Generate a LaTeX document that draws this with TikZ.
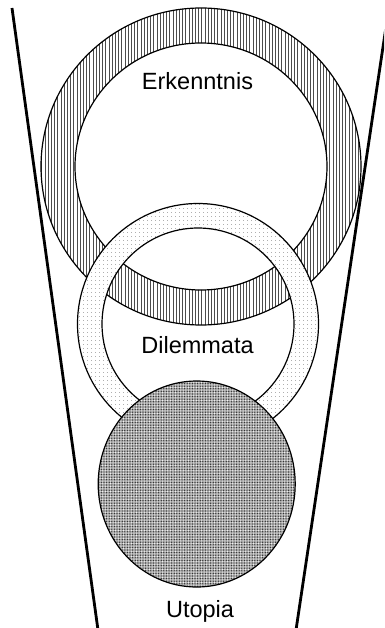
\documentclass[tikz,border=0pt]{standalone}
\usepackage{fontspec}
\setmainfont{Liberation Sans}
\usetikzlibrary{patterns,patterns.meta}
\begin{document}
\begin{tikzpicture}[x=1pt,y=-1pt,
  edge/.style={draw=black,line width=1.2pt},
  side/.style={draw=black,line width=2.8pt},
  lbl/.style={font=\fontsize{23.5}{26}\selectfont,anchor=base,inner sep=0pt}]
\useasboundingbox (0,0) rectangle (384,628);
\clip (0,0) rectangle (384,628);
% side lines
\coordinate (lt) at (12,8);
\coordinate (lb) at (98,630);
\coordinate (rt) at (390,0);
\coordinate (rb) at (296,630);
\draw[side] (lt) -- (lb);
\draw[side] (rt) -- (rb);
% Erkenntnis ring
\coordinate (E) at (201,166.5);
\fill[white,even odd rule] (E) ellipse[x radius=160,y radius=158.5] (E) ellipse[x radius=126,y radius=123.5];
\fill[pattern={Lines[angle=90,distance=3.2pt,line width=0.55pt]},pattern color=black!70,even odd rule]
  (E) ellipse[x radius=160,y radius=158.5] (E) ellipse[x radius=126,y radius=123.5];
\draw[edge] (E) ellipse[x radius=160,y radius=158.5];
\draw[edge] (E) ellipse[x radius=126,y radius=123.5];
% Dilemmata ring
\coordinate (D) at (198,324);
\fill[white,even odd rule] (D) circle[radius=120.5] (D) circle[radius=96];
\fill[pattern={Dots[distance=4pt,radius=0.45pt]},pattern color=black!55,even odd rule]
  (D) circle[radius=120.5] (D) circle[radius=96];
\draw[edge] (D) circle[radius=120.5];
\draw[edge] (D) circle[radius=96];
% Utopia disc
\coordinate (U) at (196.7,484);
\fill[gray!62] (U) ellipse[x radius=98.5,y radius=103];
\fill[pattern={Dots[distance=2.6pt,radius=0.7pt]},pattern color=black!80] (U) ellipse[x radius=98.5,y radius=103];
\fill[pattern={Dots[distance=2.6pt,radius=0.5pt,xshift=1.3pt,yshift=1.3pt]},pattern color=white] (U) ellipse[x radius=98.5,y radius=103];
\draw[edge] (U) ellipse[x radius=98.5,y radius=103];
% labels
\node[lbl] (te) at (197.5,90) {Erkenntnis};
\node[lbl] (td) at (197.5,353) {Dilemmata};
\node[lbl] (tu) at (200,617) {Utopia};
\end{tikzpicture}
\end{document}
